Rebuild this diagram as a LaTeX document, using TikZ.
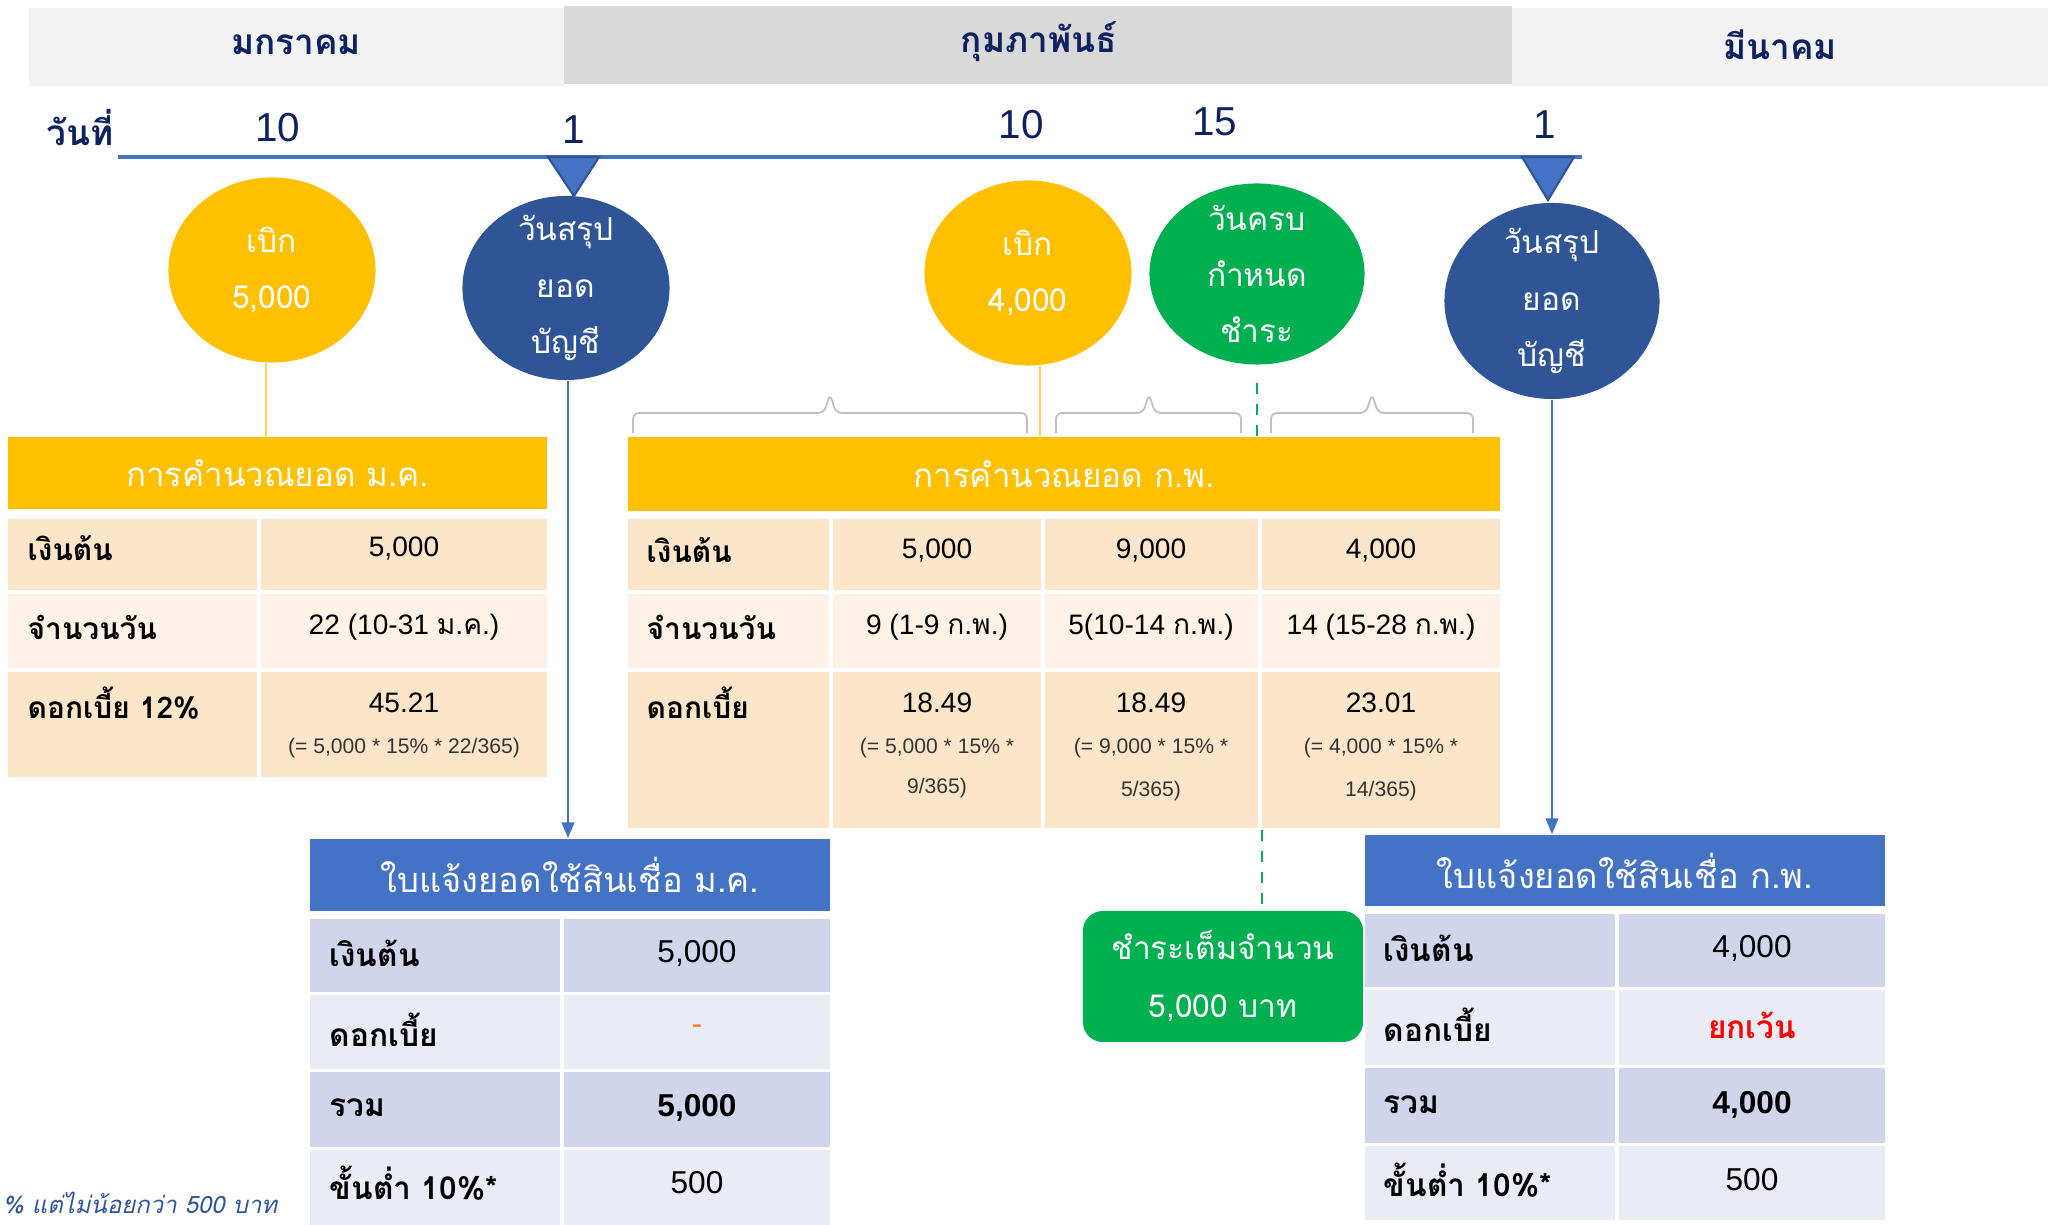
\documentclass[tikz,border=0pt]{standalone}
\usepackage{fontspec}
\setmainfont{Liberation Sans}
\newfontfamily\thai[Script=Thai]{Loma}
\usetikzlibrary{shapes.geometric,arrows.meta}
\def\cellfill[#1](#2)(#3){\fill[#1] (#2) rectangle (#3);}
\def\gapbrace(#1:#2:#3){\draw[bracemark] (#1,433) -- (#1,413) -- ({#2-6},413) -- (#2,394) -- ({#2+6},413) -- (#3,413) -- (#3,433);}

\definecolor{gold}{HTML}{FFC000}
\definecolor{navytext}{HTML}{0E2160}
\definecolor{lineblue}{HTML}{4472C4}
\definecolor{darkblue}{HTML}{2F5597}
\definecolor{duegreen}{HTML}{00B050}
\definecolor{peach}{HTML}{FDE5C9}
\definecolor{peachlight}{HTML}{FEF2E7}
\definecolor{slate}{HTML}{CFD5EA}
\definecolor{slatelight}{HTML}{E9EBF5}
\definecolor{bandlight}{HTML}{F2F2F2}
\definecolor{banddark}{HTML}{D9D9D9}
\definecolor{bracegray}{HTML}{BFBFBF}
\definecolor{dashorange}{HTML}{ED7D31}

\tikzset{
	month/.style={font=\thai\bfseries\fontsize{10}{12}\selectfont, text=navytext},
	daynum/.style={font=\fontsize{11.5}{13}\selectfont, text=navytext},
	bubble/.style={ellipse, inner sep=0pt, minimum width=2.07cm, minimum height=1.85cm},
	bubbletext/.style={text=white, align=center, font=\thai\fontsize{9}{16}\selectfont},
	calchead/.style={fill=gold, text=white, inner sep=0pt, font=\thai\fontsize{9.4}{12}\selectfont},
	stmthead/.style={fill=lineblue, text=white, inner sep=0pt, font=\thai\fontsize{9.8}{13}\selectfont},
	rowlabel/.style={anchor=west, inner sep=0pt, font=\thai\bfseries\fontsize{8.5}{10}\selectfont},
	rowvalue/.style={inner sep=0pt, font=\fontsize{8}{10}\selectfont},
	formula/.style={inner sep=0pt, font=\fontsize{6}{7}\selectfont, text=black!80},
	stmtlabel/.style={anchor=west, inner sep=0pt, font=\thai\bfseries\fontsize{9}{11}\selectfont},
	stmtvalue/.style={inner sep=0pt, font=\fontsize{9}{11}\selectfont},
	paybox/.style={fill=duegreen, rounded corners=0.2cm, text=white, align=center, minimum width=2.8cm, minimum height=1.31cm, inner sep=0pt, font=\thai\fontsize{9}{16.5}\selectfont},
	tri/.style={fill=lineblue, draw=darkblue, line width=0.6pt},
	timeline/.style={draw=lineblue, line width=1.4pt},
	yellowline/.style={draw=gold!70, line width=0.4pt},
	bluearrow/.style={draw=lineblue, line width=0.8pt, -{Triangle[width=3.5pt,length=4.5pt]}},
	greendash/.style={draw=duegreen, line width=0.8pt, dash pattern=on 3pt off 3pt},
	bracemark/.style={draw=bracegray, line width=0.5pt, rounded corners=0.06cm},
	footnote/.style={anchor=west, inner sep=0pt, text=darkblue, font=\thai\itshape\fontsize{6.8}{9}\selectfont}
}

\begin{document}
\begin{tikzpicture}[x=0.01cm, y=-0.01cm]
			%%%%% START %%%%%
			\useasboundingbox (0,0) rectangle (2050,1225);
			
			% months
			\fill[bandlight] (29,8) rectangle (564,86);
			\fill[banddark] (564,6) rectangle (1512,84);
			\fill[bandlight] (1512,8) rectangle (2048,86);
			\node[month] (jan) at (296,45) {มกราคม};
			\node[month] (feb) at (1039,42) {กุมภาพันธ์};
			\node[month] (mar) at (1780,45) {มีนาคม};
			
			% days
			\node[month] (day) at (80,128) {วันที่};
			\node[daynum] (d10a) at (278,128) {10};
			\node[daynum] (d1a) at (574,130) {1};
			\node[daynum] (d10b) at (1021,125) {10};
			\node[daynum] (d15) at (1215,122) {15};
			\node[daynum] (d1b) at (1545,125) {1};
			
			\draw[timeline] (118,157) -- (1582,157);
			\draw[tri] (548,157) -- (599,157) -- (574,196) -- cycle;
			\draw[tri] (1522,157) -- (1574,157) -- (1548,200) -- cycle;
			
			% events
			\node[bubble, fill=gold, label={[bubbletext]center:เบิก\\5,000}] (draw1) at (272,270) {};
			\node[bubble, fill=darkblue, minimum height=1.84cm, label={[bubbletext]center:วันสรุป\\ยอด\\บัญชี}] (close1) at (566,288) {};
			\node[bubble, fill=gold, label={[bubbletext]center:เบิก\\4,000}] (draw2) at (1028,273) {};
			\node[bubble, fill=duegreen, minimum width=2.15cm, minimum height=1.81cm, label={[bubbletext]center:วันครบ\\กำหนด\\ชำระ}] (due) at (1257,274) {};
			\node[bubble, fill=darkblue, minimum width=2.15cm, minimum height=1.96cm, label={[bubbletext]center:วันสรุป\\ยอด\\บัญชี}] (close2) at (1552,301) {};
			
			\gapbrace(633:830:1027)
			\gapbrace(1056:1149:1241)
			\gapbrace(1271:1372:1473)
			
			% january calculation
			\node[calchead, minimum width=5.39cm, minimum height=0.72cm] (janhead) at (277.5,473) {การคำนวณยอด ม.ค.};
			\cellfill[peach](8,519)(257,590)
			\cellfill[peach](261,519)(547,590)
			\cellfill[peachlight](8,594)(257,668)
			\cellfill[peachlight](261,594)(547,668)
			\cellfill[peach](8,672)(257,777)
			\cellfill[peach](261,672)(547,777)
			\node[rowlabel] (janP) at (27,548) {เงินต้น};
			\node[rowlabel] (janD) at (27,627) {จำนวนวัน};
			\node[rowlabel] (janI) at (27,703) {ดอกเบี้ย 12\%};
			\node[rowvalue] (janPv) at (404,548) {5,000};
			\node[rowvalue] (janDv) at (404,627) {22 (10-31 {\thai ม.ค.})};
			\node[rowvalue] (janIv) at (404,703) {45.21};
			\node[formula] (janIf) at (404,748) {(= 5,000 * 15\% * 22/365)};
			
			% february calculation
			\node[calchead, minimum width=8.72cm, minimum height=0.74cm] (febhead) at (1064,474) {การคำนวณยอด ก.พ.};
			\cellfill[peach](628,519)(829,590)
			\cellfill[peach](833,519)(1041,590)
			\cellfill[peach](1045,519)(1258,590)
			\cellfill[peach](1262,519)(1500,590)
			\cellfill[peachlight](628,594)(829,668)
			\cellfill[peachlight](833,594)(1041,668)
			\cellfill[peachlight](1045,594)(1258,668)
			\cellfill[peachlight](1262,594)(1500,668)
			\cellfill[peach](628,672)(829,828)
			\cellfill[peach](833,672)(1041,828)
			\cellfill[peach](1045,672)(1258,828)
			\cellfill[peach](1262,672)(1500,828)
			\node[rowlabel] (febP) at (646,550) {เงินต้น};
			\node[rowlabel] (febD) at (646,627) {จำนวนวัน};
			\node[rowlabel] (febI) at (646,703) {ดอกเบี้ย};
			\node[rowvalue] (febP1) at (937,550) {5,000};
			\node[rowvalue] (febP2) at (1151,550) {9,000};
			\node[rowvalue] (febP3) at (1381,550) {4,000};
			\node[rowvalue] (febD1) at (937,627) {9 (1-9 {\thai ก.พ.})};
			\node[rowvalue] (febD2) at (1151,627) {5(10-14 {\thai ก.พ.})};
			\node[rowvalue] (febD3) at (1381,627) {14 (15-28 {\thai ก.พ.})};
			\node[rowvalue] (febI1) at (937,703) {18.49};
			\node[rowvalue] (febI2) at (1151,703) {18.49};
			\node[rowvalue] (febI3) at (1381,703) {23.01};
			\node[formula] (febF1a) at (937,748) {(= 5,000 * 15\% *};
			\node[formula] (febF1b) at (937,788) {9/365)};
			\node[formula] (febF2a) at (1151,748) {(= 9,000 * 15\% *};
			\node[formula] (febF2b) at (1151,791) {5/365)};
			\node[formula] (febF3a) at (1381,748) {(= 4,000 * 15\% *};
			\node[formula] (febF3b) at (1381,791) {14/365)};
			
			% january statement
			\node[stmthead, minimum width=5.2cm, minimum height=0.72cm] (janstmt) at (570,875) {ใบแจ้งยอดใช้สินเชื่อ ม.ค.};
			\cellfill[slate](310,919)(560,992)
			\cellfill[slate](564,919)(830,992)
			\cellfill[slatelight](310,995)(560,1069)
			\cellfill[slatelight](564,995)(830,1069)
			\cellfill[slate](310,1072)(560,1147)
			\cellfill[slate](564,1072)(830,1147)
			\cellfill[slatelight](310,1150)(560,1225)
			\cellfill[slatelight](564,1150)(830,1225)
			\node[stmtlabel] (janSP) at (329,953) {เงินต้น};
			\node[stmtlabel] (janSI) at (329,1030) {ดอกเบี้ย};
			\node[stmtlabel] (janST) at (329,1108) {รวม};
			\node[stmtlabel] (janSM) at (329,1183) {ขั้นต่ำ 10\%*};
			\node[stmtvalue] (janSPv) at (697,953) {5,000};
			\node[stmtvalue, text=dashorange] (janSIv) at (697,1030) {-};
			\node[stmtvalue, font=\bfseries\fontsize{9}{11}\selectfont] (janSTv) at (697,1108) {5,000};
			\node[stmtvalue] (janSMv) at (697,1183) {500};
			\node[footnote] (note) at (2,1203) {\% แต่ไม่น้อยกว่า 500 บาท};
			
			% february statement
			\node[stmthead, minimum width=5.2cm, minimum height=0.71cm] (febstmt) at (1625,870.5) {ใบแจ้งยอดใช้สินเชื่อ ก.พ.};
			\cellfill[slate](1365,914)(1615,987)
			\cellfill[slate](1619,914)(1885,987)
			\cellfill[slatelight](1365,990)(1615,1065)
			\cellfill[slatelight](1619,990)(1885,1065)
			\cellfill[slate](1365,1068)(1615,1143)
			\cellfill[slate](1619,1068)(1885,1143)
			\cellfill[slatelight](1365,1146)(1615,1220)
			\cellfill[slatelight](1619,1146)(1885,1220)
			\node[stmtlabel] (febSP) at (1383,948) {เงินต้น};
			\node[stmtlabel] (febSI) at (1383,1025) {ดอกเบี้ย};
			\node[stmtlabel] (febST) at (1383,1105) {รวม};
			\node[stmtlabel] (febSM) at (1383,1180) {ขั้นต่ำ 10\%*};
			\node[stmtvalue] (febSPv) at (1752,948) {4,000};
			\node[stmtvalue, text=red, font=\thai\bfseries\fontsize{9}{11}\selectfont] (febSIv) at (1752,1025) {ยกเว้น};
			\node[stmtvalue, font=\bfseries\fontsize{9}{11}\selectfont] (febSTv) at (1752,1105) {4,000};
			\node[stmtvalue] (febSMv) at (1752,1180) {500};
			
			\node[paybox] (pay) at (1223,976.5) {ชำระเต็มจำนวน\\5,000 บาท};
			
			% links
			\draw[yellowline] ([xshift=-0.06cm]draw1.south) -- ([xshift=-0.06cm]draw1.south |- janhead.north);
			\draw[yellowline] ([xshift=0.12cm]draw2.south) -- ([xshift=0.12cm]draw2.south |- febhead.north);
			\draw[bluearrow] ([xshift=0.02cm]close1.south) -- ([xshift=0.02cm]close1.south |- janstmt.north);
			\draw[bluearrow] (close2.south) -- (close2.south |- febstmt.north);
			\coordinate (duelink) at (1257,383);
			\draw[greendash] (duelink) -- (duelink |- febhead.north);
			\coordinate (paylink) at (1262,830);
			\draw[greendash] (paylink) -- (paylink |- pay.north);
			
			%%%%% END %%%%%
\end{tikzpicture}
\end{document}
